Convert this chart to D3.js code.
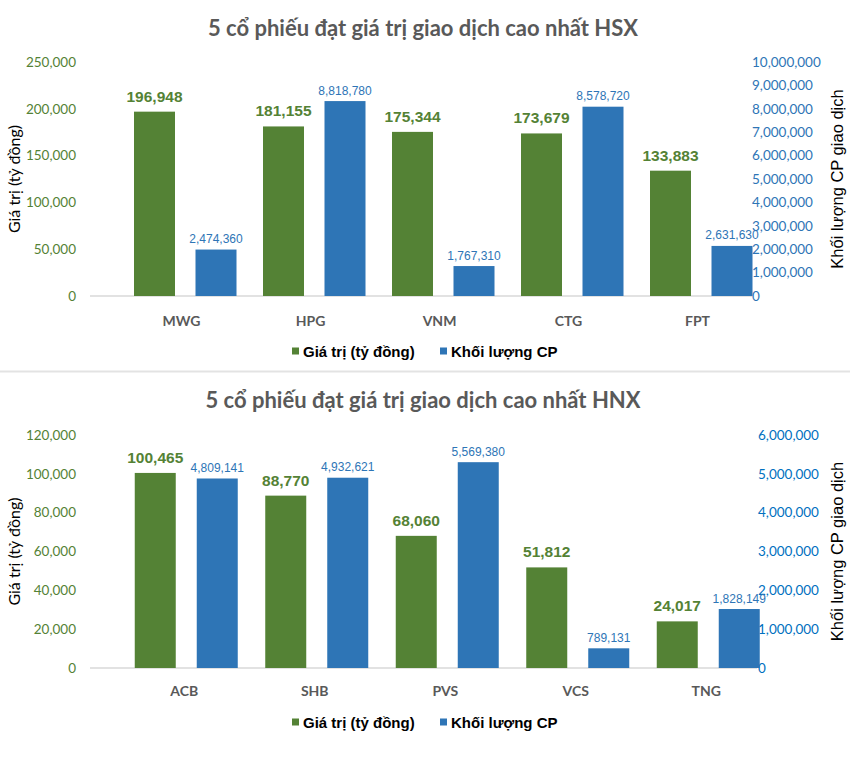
<!DOCTYPE html>
<html><head><meta charset="utf-8">
<script src="https://cdn.jsdelivr.net/npm/d3@7"></script>
<style>body{margin:0;background:#fff}svg{display:block}</style>
</head><body>
<svg id="c" width="850" height="770"></svg>
<script>
// ---- data ----
const hsxTitle = "5 cổ phiếu đạt giá trị giao dịch cao nhất HSX";
const hsxCategories = ["MWG", "HPG", "VNM", "CTG", "FPT"];
const hsxValue = [196948, 181155, 175344, 173679, 133883];
const hsxVolume = [2474360, 8818780, 1767310, 8578720, 2631630];          // data-label values
const hsxVolumeBar = [1985000, 8330000, 1280000, 8090000, 2140000];       // bar tops as read on the right axis
const hsxValueTicks = [0, 50000, 100000, 150000, 200000, 250000];
const hsxVolumeTicks = [0, 1000000, 2000000, 3000000, 4000000, 5000000, 6000000, 7000000, 8000000, 9000000, 10000000];

const hnxTitle = "5 cổ phiếu đạt giá trị giao dịch cao nhất HNX";
const hnxCategories = ["ACB", "SHB", "PVS", "VCS", "TNG"];
const hnxValue = [100465, 88770, 68060, 51812, 24017];
const hnxVolume = [4809141, 4932621, 5569380, 789131, 1828149];           // data-label values
const hnxVolumeBar = [4880000, 4900000, 5300000, 507000, 1519000];        // bar tops as read on the right axis
const hnxValueTicks = [0, 20000, 40000, 60000, 80000, 100000, 120000];
const hnxVolumeTicks = [0, 1000000, 2000000, 3000000, 4000000, 5000000, 6000000];

const legendLabels = ["Giá trị (tỷ đồng)", "Khối lượng CP"];
const leftAxisTitle = "Giá trị (tỷ đồng)";
const rightAxisTitle = "Khối lượng CP giao dịch";

// ---- styles ----
const GREEN = "#548235", BLUE = "#2e75b6", GRAY = "#595959", LINE = "#d9d9d9";
const SANS = "Lato, 'Open Sans', sans-serif";
const ARIAL = "'Liberation Sans', Arial, sans-serif";
const NARROW = "'Liberation Sans Narrow', 'Arial Narrow', 'Liberation Sans', sans-serif";
const fmt = d3.format(",");

const svg = d3.select("#c");

function drawChart(o) {
  const g = svg.append("g");
  const y = d3.scaleLinear().domain([0, d3.max(o.valueTicks)]).range([o.bottom, o.top]);
  const y2 = d3.scaleLinear().domain([0, d3.max(o.volumeTicks)]).range([o.bottom, o.top]);
  const x = d3.scaleBand().domain(o.categories).range([o.x0, o.x1]);
  const bw = 41;

  // title
  g.append("text").attr("x", 423).attr("y", o.titleY).attr("text-anchor", "middle")
    .attr("font-family", SANS).attr("font-weight", "bold").attr("font-size", 22)
    .attr("fill", GRAY).text(o.title);

  // baseline
  g.append("line").attr("x1", o.x0).attr("x2", o.axisEnd)
    .attr("y1", y(0)).attr("y2", y(0)).attr("stroke", LINE).attr("stroke-width", 1.5);

  // left axis
  const la = g.append("g").attr("transform", `translate(76,0)`)
    .call(d3.axisLeft(y).tickValues(o.valueTicks).tickSize(0).tickPadding(0).tickFormat(fmt));
  la.select(".domain").remove();
  la.selectAll("text").attr("font-family", SANS).attr("font-size", 13.5).attr("fill", GREEN);

  // right axis
  const ra = g.append("g").attr("transform", `translate(${o.rightX},0)`)
    .call(d3.axisRight(y2).tickValues(o.volumeTicks).tickSize(0).tickPadding(0).tickFormat(fmt));
  ra.select(".domain").remove();
  ra.selectAll("text").attr("font-family", SANS).attr("font-size", 13.5).attr("fill", o.rightColor);

  // axis titles
  g.append("text").attr("transform", `translate(13,${(o.top + o.bottom) / 2}) rotate(-90)`)
    .attr("text-anchor", "middle").attr("dominant-baseline", "central")
    .attr("font-family", SANS).attr("font-size", 16).attr("fill", "#000").text(leftAxisTitle);
  g.append("text").attr("transform", `translate(837,${(o.top + o.bottom) / 2}) rotate(-90)`)
    .attr("text-anchor", "middle").attr("dominant-baseline", "central")
    .attr("font-family", ARIAL).attr("font-size", 16.5).attr("fill", "#000").text(rightAxisTitle);

  const gx = c => x(c) + x.bandwidth() / 2 - bw / 2;
  const bx = c => gx(c) + o.blueOffset;

  // bars
  g.selectAll(".gbar").data(o.categories).join("rect").attr("class", "gbar")
    .attr("x", c => gx(c)).attr("width", bw)
    .attr("y", (c, i) => y(o.value[i])).attr("height", (c, i) => y(0) - y(o.value[i]))
    .attr("fill", GREEN);
  g.selectAll(".bbar").data(o.categories).join("rect").attr("class", "bbar")
    .attr("x", c => bx(c)).attr("width", bw)
    .attr("y", (c, i) => y2(o.volumeBar[i])).attr("height", (c, i) => y2(0) - y2(o.volumeBar[i]))
    .attr("fill", BLUE);

  // data labels
  g.selectAll(".glab").data(o.categories).join("text").attr("class", "glab")
    .attr("x", c => gx(c) + bw / 2).attr("y", (c, i) => y(o.value[i]) - 10)
    .attr("text-anchor", "middle").attr("font-family", NARROW).attr("font-weight", "bold")
    .attr("font-size", 15.5).attr("fill", GREEN).text((c, i) => fmt(o.value[i]));
  g.selectAll(".blab").data(o.categories).join("text").attr("class", "blab")
    .attr("x", c => bx(c) + bw / 2).attr("y", (c, i) => y2(o.volumeBar[i]) - 6.5)
    .attr("text-anchor", "middle").attr("font-family", NARROW)
    .attr("font-size", 12).attr("fill", BLUE).text((c, i) => fmt(o.volume[i]));

  // category labels
  g.selectAll(".cat").data(o.categories).join("text").attr("class", "cat")
    .attr("x", c => x(c) + x.bandwidth() / 2 + o.catOffset).attr("y", o.catY)
    .attr("text-anchor", "middle").attr("dominant-baseline", "central")
    .attr("font-family", SANS).attr("font-weight", "bold").attr("font-size", 14)
    .attr("fill", GRAY).text(c => c);

  // legend
  const lg = g.append("g").attr("transform", `translate(0,${o.legendY})`);
  const items = [{ x: 292, c: GREEN }, { x: 440, c: BLUE }];
  items.forEach((it, i) => {
    lg.append("rect").attr("x", it.x).attr("y", -3.5).attr("width", 7).attr("height", 7).attr("fill", it.c);
    lg.append("text").attr("x", it.x + 11).attr("y", 0).attr("dominant-baseline", "central")
      .attr("font-family", ARIAL).attr("font-weight", "bold").attr("font-size", 15)
      .attr("fill", "#000").text(legendLabels[i]);
  });
}

drawChart({
  title: hsxTitle, categories: hsxCategories, value: hsxValue, volume: hsxVolume, volumeBar: hsxVolumeBar,
  valueTicks: hsxValueTicks, volumeTicks: hsxVolumeTicks,
  top: 62, bottom: 296, x0: 90, x1: 735, axisEnd: 752, rightX: 752,
  titleY: 36, catY: 320, legendY: 351, catOffset: 27, blueOffset: 61.5, rightColor: BLUE
});

svg.append("line").attr("x1", 0).attr("x2", 850).attr("y1", 371.5).attr("y2", 371.5)
  .attr("stroke", "#e3e3e3").attr("stroke-width", 2);

drawChart({
  title: hnxTitle, categories: hnxCategories, value: hnxValue, volume: hnxVolume, volumeBar: hnxVolumeBar,
  valueTicks: hnxValueTicks, volumeTicks: hnxVolumeTicks,
  top: 435, bottom: 668, x0: 90, x1: 742.5, axisEnd: 757, rightX: 758,
  titleY: 408, catY: 690, legendY: 722, catOffset: 29, blueOffset: 62, rightColor: "#0070c0"
});
</script>
</body></html>
